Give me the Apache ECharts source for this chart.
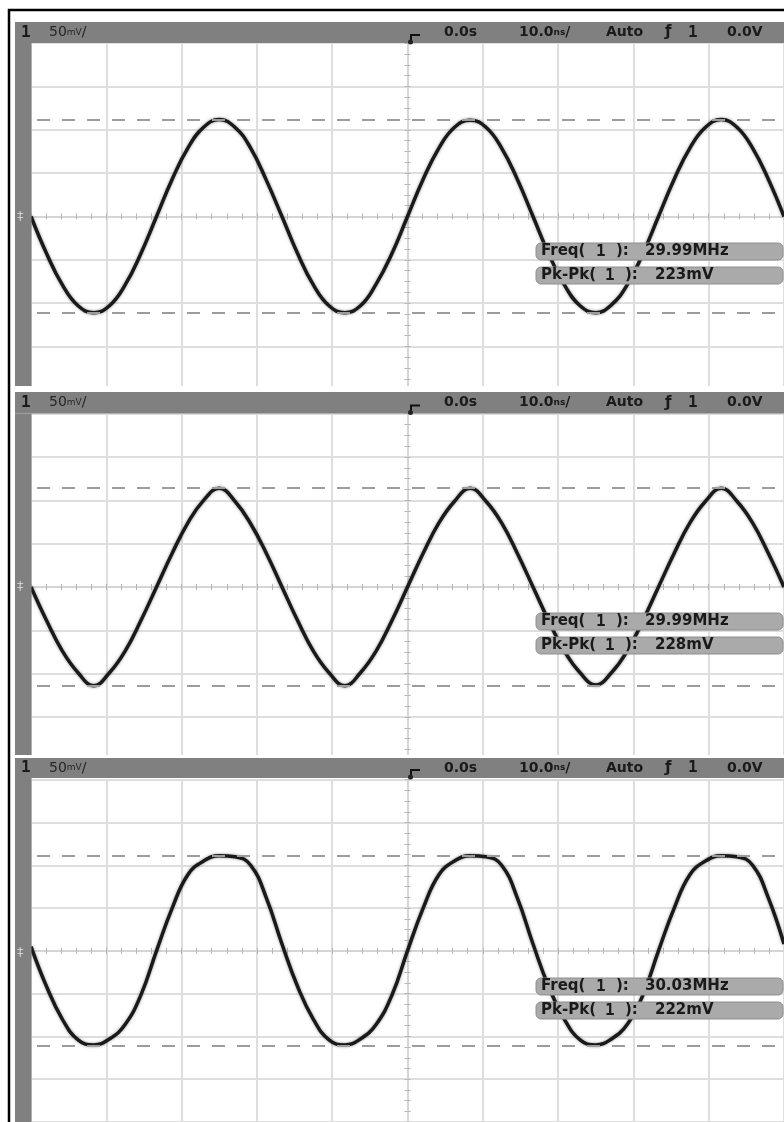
<!DOCTYPE html>
<html>
<head>
<meta charset="utf-8">
<script src="https://cdn.jsdelivr.net/npm/echarts@6/dist/echarts.min.js"></script>
<style>
html,body{margin:0;padding:0;background:#fff;}
#chart{width:784px;height:1122px;}
</style>
</head>
<body>
<div id="chart"></div>
<script>
// ---- data (time in ns, voltage in mV) ----
// samples taken every 1/16 of the ~33.3 ns period
const timeNs = [-50,-47.92,-45.83,-43.75,-41.67,-39.58,-37.5,-35.42,-33.33,-31.25,-29.17,-27.08,-25,-22.92,-20.83,-18.75,-16.67,-14.58,-12.5,-10.42,-8.33,-6.25,-4.17,-2.08,0,2.08,4.17,6.25,8.33,10.42,12.5,14.58,16.67,18.75,20.83,22.92,25,27.08,29.17,31.25,33.33,35.42,37.5,39.58,41.67,43.75,45.83,47.92,50];
const trace1mV = [0,-43,-79,-103,-111,-103,-79,-43,0,43,79,103,112,103,79,42,0,-43,-79,-103,-111,-103,-78,-43,0,43,79,103,111,103,79,43,0,-43,-79,-103,-111,-102,-79,-43,0,43,79,103,112,103,79,43,0];
const trace2mV = [0,-39,-74,-99,-114,-99,-74,-39,0,39,74,100,114,99,73,39,0,-39,-74,-99,-114,-99,-74,-39,0,39,74,99,114,99,74,39,0,-39,-74,-99,-113,-99,-74,-39,0,39,74,99,114,99,74,39,0];
const trace3mV = [5,-42,-80,-104,-110,-103,-86,-52,0,50,89,105,111,110,100,62,8,-42,-80,-104,-110,-103,-86,-52,0,50,89,105,111,110,100,62,8,-42,-80,-104,-110,-103,-86,-52,0,50,89,105,111,110,100,62,8];
const traces = [trace1mV, trace2mV, trace3mV];
const cursorHighmV = [111.5, 114, 111];
const cursorLowmV = [-111.5, -114, -111];
const freqValues = ['29.99MHz', '29.99MHz', '30.03MHz'];
const pkpkValues = ['223mV', '228mV', '222mV'];
const timeRange = [-50, 50];   // 10 ns/div
const timeStep = 10;
const voltRange = [-200, 200]; // 50 mV/div
const voltStep = 50;
const headerTexts = { ch: '1', scale: '50{s|mV}/', delay: '0.0s', timebase: '10.0{s|ns}/', mode: 'Auto', trigSrc: '1', level: '0.0V' };

// ---- layout ----
const headerTops = [22, 392, 758];
const headerHeights = [21, 21.5, 20];
const gridTops = [43.2, 413.7, 779.7];
const gridHeight = 346.6;
const stripBottoms = [386, 755, 1130];
const boxTops = [[243, 267], [613, 637], [978, 1002]];

const chart = echarts.init(document.getElementById('chart'), null, {renderer: 'canvas'});

const grids = [], xAxes = [], yAxes = [], series = [], elements = [];
const gridCol = '#dedede', tickCol = '#b5b5b5';

for (let i = 0; i < 3; i++) {
  grids.push({left: 31, top: gridTops[i], width: 759, height: gridHeight, show: false});
  const xBase = {
    gridIndex: i, type: 'value', min: timeRange[0], max: timeRange[1], interval: timeStep,
    axisLabel: {show: false},
    axisTick: {show: true, inside: false, length: 3, lineStyle: {color: tickCol, width: 1}},
    minorTick: {show: true, splitNumber: 5, length: 3, lineStyle: {color: tickCol, width: 1}},
    minorSplitLine: {show: false}
  };
  xAxes.push(Object.assign({}, xBase, {
    position: 'bottom',
    axisLine: {show: true, onZero: true, onZeroAxisIndex: 2 * i, lineStyle: {color: '#d2d2d2', width: 1.5}},
    splitLine: {show: true, lineStyle: {color: gridCol, width: 2}}
  }));
  xAxes.push(Object.assign({}, xBase, {
    position: 'top',
    axisLine: {show: false, onZero: true, onZeroAxisIndex: 2 * i},
    splitLine: {show: false}
  }));
  const yBase = {
    gridIndex: i, type: 'value', min: voltRange[0], max: voltRange[1], interval: voltStep,
    axisLabel: {show: false},
    axisTick: {show: true, inside: false, length: 3, lineStyle: {color: tickCol, width: 1}},
    minorTick: {show: true, splitNumber: 4, length: 3, lineStyle: {color: tickCol, width: 1}},
    minorSplitLine: {show: false}
  };
  yAxes.push(Object.assign({}, yBase, {
    position: 'left',
    axisLine: {show: true, onZero: true, onZeroAxisIndex: 2 * i, lineStyle: {color: '#d2d2d2', width: 1.5}},
    splitLine: {show: true, lineStyle: {color: gridCol, width: 2}}
  }));
  yAxes.push(Object.assign({}, yBase, {
    position: 'right',
    axisLine: {show: false, onZero: true, onZeroAxisIndex: 2 * i},
    splitLine: {show: false}
  }));

  series.push({
    type: 'line',
    xAxisIndex: 2 * i, yAxisIndex: 2 * i,
    data: timeNs.map((t, k) => [t, traces[i][k]]),
    showSymbol: false, smooth: 0.45, silent: true,
    lineStyle: {color: '#1a1a1a', width: 3.5, shadowColor: 'rgba(70,70,70,0.6)', shadowBlur: 3},
    markLine: {
      silent: true, symbol: 'none', label: {show: false},
      lineStyle: {color: '#9c9c9c', width: 2, type: [13, 12], dashOffset: -6},
      data: [{yAxis: cursorHighmV[i]}, {yAxis: cursorLowmV[i]}]
    },
    z: 3
  });

  const ht = headerTops[i], hh = headerHeights[i], cy = ht + hh / 2;
  // header bar + left strip
  elements.push({type: 'rect', shape: {x: 15, y: ht, width: 790, height: hh}, style: {fill: '#808080'}, z: 100});
  elements.push({type: 'rect', shape: {x: 15, y: ht + hh, width: 16.5, height: stripBottoms[i] - ht - hh}, style: {fill: '#808080'}, z: 100});
  if (i < 2) {
    elements.push({type: 'rect', shape: {x: 11, y: stripBottoms[i], width: 790, height: headerTops[i + 1] - stripBottoms[i]}, style: {fill: '#ffffff'}, z: 99});
  }
  const hFont = 'bold 14px "DejaVu Sans"';
  const tFill = '#1a1a1a';
  const txt = (x, text, font, extra) => elements.push(Object.assign({
    type: 'text', x: x, y: cy, z: 110,
    style: Object.assign({text: text, font: font, fill: tFill, verticalAlign: 'middle', align: 'left'}, extra || {})
  }));
  txt(21, headerTexts.ch, 'bold 16px "DejaVu Sans Mono"');
  txt(49, headerTexts.scale, '14px "DejaVu Sans"', {fill: '#262626', rich: {s: {font: '9px "DejaVu Sans"', fill: '#262626', verticalAlign: 'middle'}}});
  txt(444, headerTexts.delay, hFont);
  txt(519, headerTexts.timebase, hFont, {rich: {s: {font: 'bold 9px "DejaVu Sans"', fill: tFill}}});
  txt(606, headerTexts.mode, hFont);
  txt(665, 'ƒ', 'bold 15px "DejaVu Sans"');
  txt(688, headerTexts.trigSrc, 'bold 16px "DejaVu Sans Mono"');
  txt(727, headerTexts.level, hFont);
  // trigger-position marker
  elements.push({type: 'polyline', shape: {points: [[420, ht + hh - 8], [411, ht + hh - 8], [411, ht + hh]]}, style: {stroke: '#111', lineWidth: 2, fill: null}, z: 111});
  elements.push({type: 'circle', shape: {cx: 410.5, cy: ht + hh - 1, r: 2.5}, style: {fill: '#222'}, z: 111});
  // ground reference marker
  elements.push({type: 'text', x: 17, y: gridTops[i] + gridHeight / 2, z: 110,
    style: {text: '‡', font: '13px "DejaVu Sans"', fill: '#cfcfcf', verticalAlign: 'middle'}});
  // measurement boxes
  const mFont = 'bold 15px "DejaVu Sans"';
  const addBox = (y, parts) => {
    elements.push({type: 'rect', shape: {x: 536, y: y, width: 247, height: 17, r: 5}, style: {fill: '#aaaaaa', stroke: '#8e8e8e', lineWidth: 1}, z: 105});
    parts.forEach(p => elements.push({type: 'text', x: p[0], y: y + 8.5, z: 110,
      style: {text: p[1], font: p[2] || mFont, fill: '#1a1a1a', verticalAlign: 'middle'}}));
  };
  addBox(boxTops[i][0], [[541, 'Freq('], [596, '1', 'bold 16px "DejaVu Sans Mono"'], [616, '):'], [645, freqValues[i]]]);
  addBox(boxTops[i][1], [[541, 'Pk-Pk('], [605, '1', 'bold 16px "DejaVu Sans Mono"'], [625, '):'], [655, pkpkValues[i]]]);
}

// outer frame
elements.push({type: 'rect', shape: {x: 9, y: 10, width: 800, height: 1200}, style: {fill: null, stroke: '#000', lineWidth: 2.5}, z: 120});

chart.setOption({
  backgroundColor: '#ffffff',
  animation: false,
  grid: grids,
  xAxis: xAxes,
  yAxis: yAxes,
  series: series,
  graphic: {elements: elements}
});
</script>
</body>
</html>
